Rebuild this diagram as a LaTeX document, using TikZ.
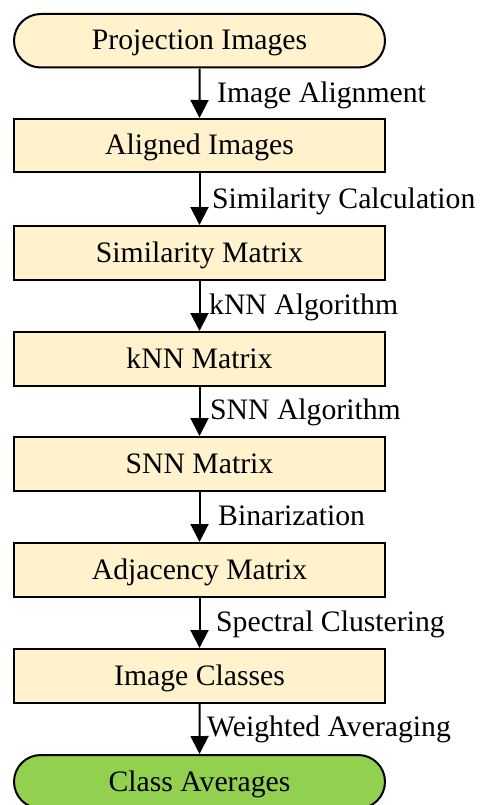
\documentclass[tikz,border=0pt]{standalone}
\usepackage{fontspec}
\setmainfont{Liberation Serif}
\usetikzlibrary{arrows.meta,shapes.misc}
\definecolor{boxfill}{HTML}{FFF2CC}
\definecolor{endfill}{HTML}{92D050}
\begin{document}
\begin{tikzpicture}[x=1pt,y=-1pt,
  every node/.style={font=\fontsize{29.7}{34}\selectfont},
  stepbox/.style={draw=black,line width=2pt,fill=boxfill,rectangle,minimum width=371pt,minimum height=53.5pt,inner sep=0pt,text height=22pt,text depth=3.5pt},
  termbox/.style={stepbox,rounded rectangle,rounded rectangle arc length=180},
  arr/.style={line width=2pt,-{Triangle[width=18pt,length=18pt]}},
  lbl/.style={anchor=base west,inner sep=0pt}]
\useasboundingbox (0,0) rectangle (480,805);
\node[termbox] (n1) at (199.5,40.75) {Projection Images};
\node[stepbox] (n2) at (199.5,145.75) {Aligned Images};
\node[stepbox] (n3) at (199.5,252.75) {Similarity Matrix};
\node[stepbox] (n4) at (199.5,358.75) {kNN Matrix};
\node[stepbox] (n5) at (199.5,463.75) {SNN Matrix};
\node[stepbox] (n6) at (199.5,569.75) {Adjacency Matrix};
\node[stepbox] (n7) at (199.5,675.75) {Image Classes};
\node[termbox,fill=endfill] (n8) at (199.5,781.75) {Class Averages};
\draw[arr] (n1) -- (n2);
\draw[arr] (n2) -- (n3);
\draw[arr] (n3) -- (n4);
\draw[arr] (n4) -- (n5);
\draw[arr] (n5) -- (n6);
\draw[arr] (n6) -- (n7);
\draw[arr] (n7) -- (n8);
\node[lbl] (l1) at (217,103) {Image Alignment};
\node[lbl] (l2) at (212,208) {Similarity Calculation};
\node[lbl] (l3) at (209,314) {kNN Algorithm};
\node[lbl] (l4) at (210,419) {SNN Algorithm};
\node[lbl] (l5) at (218,525) {Binarization};
\node[lbl] (l6) at (216,631) {Spectral Clustering};
\node[lbl] (l7) at (207,736.5) {Weighted Averaging};
\end{tikzpicture}
\end{document}
